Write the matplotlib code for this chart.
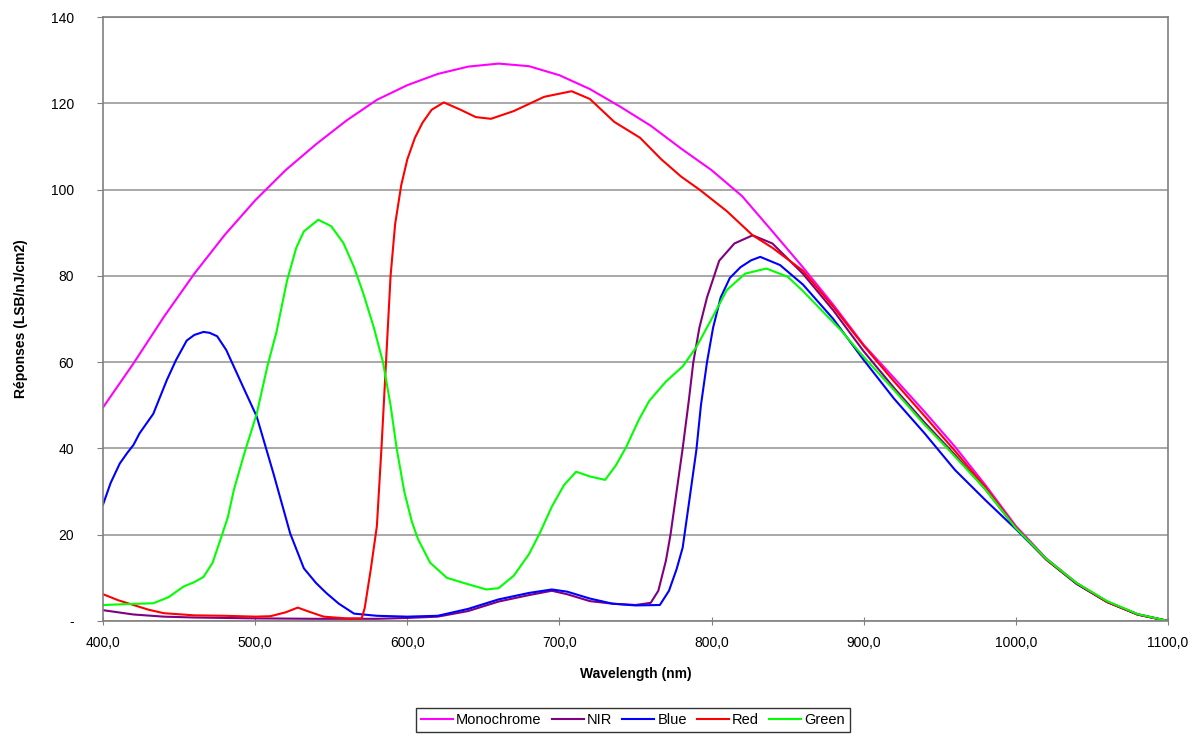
import numpy as np
import matplotlib
matplotlib.use("Agg")
import matplotlib.pyplot as plt

plt.rcParams['font.family'] = ['Liberation Sans', 'DejaVu Sans']

# values (wavelength in nm, response in LSB/nJ/cm2)
mono_wl = [400, 420, 440, 460, 480, 500, 520, 540, 560, 580, 600, 620, 640, 660,
           680, 700, 720, 740, 760, 780, 800, 820, 840, 860, 880, 900, 920, 940,
           960, 980, 1000, 1020, 1040, 1060, 1080, 1100]
mono_val = [49.5, 59.7, 70.5, 80.5, 89.5, 97.5, 104.5, 110.5, 116, 120.8, 124.2,
            126.8, 128.5, 129.2, 128.6, 126.5, 123.3, 119.2, 114.8, 109.5, 104.5,
            98.5, 90.3, 82, 73.3, 64, 56.3, 48.5, 40.4, 31.5, 22, 14.5, 8.8, 4.5,
            1.6, 0]

nir_wl = [400, 420, 440, 460, 500, 540, 580, 600, 620, 640, 660, 680, 695, 705,
          720, 735, 750, 760, 765, 770, 773, 777, 781, 785, 788, 792, 797, 805,
          815, 827, 840, 860, 880, 900, 920, 940, 960, 980, 1000, 1020, 1040,
          1060, 1080, 1100]
nir_val = [2.5, 1.5, 1.0, 0.8, 0.6, 0.5, 0.5, 0.7, 1.0, 2.3, 4.5, 6.0, 7.0, 6.2,
           4.6, 4.0, 3.7, 4.2, 7, 14, 20, 30, 40, 51, 60, 68, 75, 83.5, 87.5,
           89.4, 87.5, 80.5, 72, 62.5, 54, 46, 38.5, 30.5, 21.5, 14.2, 8.6, 4.4,
           1.5, 0]

blue_wl = [400, 405, 411, 416, 420, 424, 433, 442, 448, 455, 460, 466, 470, 475,
           481, 492, 501, 512, 523, 532, 540, 547, 555, 565, 580, 600, 620, 640,
           660, 680, 695, 705, 720, 735, 750, 766, 772, 777, 781, 785, 790, 793,
           797, 801, 806, 812, 819, 826, 832, 845, 860, 880, 900, 920, 940, 960,
           980, 1000, 1020, 1040, 1060, 1080, 1100]
blue_val = [27, 32, 36.5, 39, 40.8, 43.5, 48, 55.9, 60.5, 65, 66.3, 67, 66.8,
            66, 62.8, 54.3, 47.4, 34.2, 20.3, 12.2, 8.8, 6.4, 4, 1.7, 1.2, 1.0,
            1.2, 2.8, 5, 6.5, 7.3, 6.8, 5.2, 4, 3.6, 3.7, 7, 12, 17, 27, 39.6,
            50, 60, 68, 75, 79.5, 82, 83.6, 84.4, 82.5, 78, 70, 60.5, 51.5, 43.5,
            35, 28, 21.3, 14.3, 8.6, 4.4, 1.5, 0]

red_wl = [400, 410, 420, 430, 440, 460, 480, 500, 510, 520, 528, 535, 545, 560,
          570, 572, 576, 580, 583, 586, 589, 592, 596, 600, 605, 610, 616, 624,
          635, 645, 655, 670, 690, 708, 720, 736, 753, 767, 780, 792, 810, 827,
          840, 860, 880, 900, 920, 940, 960, 980, 1000, 1020, 1040, 1060, 1080,
          1100]
red_val = [6.2, 4.8, 3.7, 2.6, 1.8, 1.3, 1.2, 1.0, 1.1, 2.0, 3.1, 2.2, 1.0, 0.6,
           0.6, 3, 12, 22, 40, 60, 80, 92, 101, 107, 112, 115.5, 118.5, 120.2,
           118.5, 116.8, 116.4, 118.2, 121.5, 122.8, 121, 115.7, 112, 107, 103,
           100, 95, 89.4, 86.5, 81.2, 72.8, 63.8, 55.5, 47.5, 39.4, 31, 21.7,
           14.3, 8.7, 4.4, 1.5, 0]

green_wl = [400, 415, 433, 443, 453, 460, 466, 472, 477, 482, 486, 493, 501, 508,
            514, 521, 527, 532, 541.5, 550, 558, 565, 571, 578, 584, 589, 593,
            598, 603, 607, 615, 626, 640, 652, 660, 670, 680, 687, 695, 703, 711,
            720, 730, 737, 744, 752, 759, 770, 781, 790, 800, 810, 822, 836, 850,
            860, 885, 900, 920, 940, 955, 980, 1000, 1020, 1040, 1060, 1080, 1100]
green_val = [3.7, 3.9, 4.1, 5.5, 8, 9, 10.2, 13.5, 18.7, 24, 30.4, 39, 48, 59,
             67, 79, 86.5, 90.3, 93, 91.5, 87.6, 82, 76, 68, 60, 50, 40, 30, 23,
             19, 13.5, 10, 8.5, 7.3, 7.6, 10.5, 15.5, 20.3, 26.5, 31.5, 34.6,
             33.5, 32.7, 36, 40.4, 46.5, 51, 55.5, 59, 63.5, 70, 76.7, 80.5, 81.7,
             79.8, 76.5, 67.4, 61.2, 53.5, 45.5, 40, 30.5, 21.5, 14.4, 8.8, 4.6,
             1.6, 0]

series = [
    ('Monochrome', mono_wl, mono_val, '#ff00ff'),
    ('NIR', nir_wl, nir_val, '#800080'),
    ('Blue', blue_wl, blue_val, '#0000ff'),
    ('Red', red_wl, red_val, '#ff0000'),
    ('Green', green_wl, green_val, '#00ff00'),
]

x_ticks = [400, 500, 600, 700, 800, 900, 1000, 1100]
x_labels = ['400,0', '500,0', '600,0', '700,0', '800,0', '900,0', '1000,0', '1100,0']
y_ticks = [0, 20, 40, 60, 80, 100, 120, 140]
y_labels = ['-', '20', '40', '60', '80', '100', '120', '140']

fig = plt.figure(figsize=(12.01, 7.36), dpi=100)
ax = fig.add_axes([0.0858, 0.1563, 0.8867, 0.8206])

for name, wl, val, col in series:
    ax.plot(wl, val, color=col, lw=1.5, label=name)

ax.set_xlim(400, 1100)
ax.set_ylim(0, 140)
ax.set_xticks(x_ticks)
ax.set_xticklabels(x_labels)
ax.set_yticks(y_ticks)
ax.set_yticklabels(y_labels)
ax.yaxis.grid(True, color='#999999', lw=1.2)
ax.set_axisbelow(True)
for s in ax.spines.values():
    s.set_color('#808080')
    s.set_linewidth(1.2)
ax.tick_params(axis='x', direction='inout', length=6, color='#808080',
               labelsize=10, pad=8)
ax.tick_params(axis='y', direction='out', length=4, color='#808080',
               labelsize=10, pad=17)

ax.set_xlabel('Wavelength (nm)', fontsize=10, fontweight='bold', labelpad=12)
ax.set_ylabel('Réponses (LSB/nJ/cm2)', fontsize=10, fontweight='bold', labelpad=16)

leg = fig.legend(loc='center', bbox_to_anchor=(0.527, 0.0215), ncol=5,
                 fontsize=10.5, frameon=True, fancybox=False, handlelength=2.2,
                 handletextpad=0.2, columnspacing=0.7, borderpad=0.35)
leg.get_frame().set_edgecolor('black')
leg.get_frame().set_linewidth(1.0)

fig.savefig('out.png', dpi=100)
